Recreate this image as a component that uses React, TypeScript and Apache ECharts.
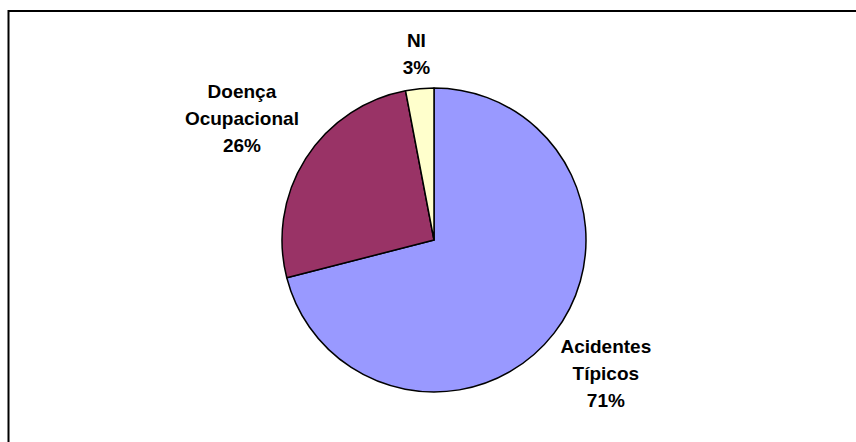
import React, { useEffect, useRef } from "react";
import * as echarts from "echarts";

// Work-accident records by type
const categories = ["Acidentes Típicos", "Doença Ocupacional", "NI"];
const shares = [71, 26, 3];
const sliceColors = ["#9999FF", "#993366", "#FFFFCC"];

const CX = 434;
const CY = 240;
const R = 152;
const LABEL_GAP = 8;

export default function App() {
  const ref = useRef<HTMLDivElement>(null);

  useEffect(() => {
    if (!ref.current) return;
    const chart = echarts.init(ref.current, null, { renderer: "svg" });

    const total = shares.reduce((a, b) => a + b, 0);
    // mid-angle of each slice, clockwise from 12 o'clock
    const midAngles: number[] = [];
    let acc = 0;
    shares.forEach((v) => {
      const start = (acc / total) * Math.PI * 2;
      acc += v;
      const end = (acc / total) * Math.PI * 2;
      midAngles.push((start + end) / 2);
    });

    chart.setOption({
      animation: false,
      backgroundColor: "#ffffff",
      graphic: [
        {
          type: "rect",
          shape: { x: 8.5, y: 11, width: 870, height: 450 },
          style: { fill: "none", stroke: "#000000", lineWidth: 2 },
          silent: true,
        },
      ],
      series: [
        {
          type: "pie",
          center: [CX, CY],
          radius: R,
          startAngle: 90,
          clockwise: true,
          avoidLabelOverlap: false,
          itemStyle: { borderColor: "#000000", borderWidth: 1.5 },
          emphasis: { disabled: true },
          labelLine: { show: false },
          label: {
            show: true,
            position: "outside",
            fontFamily: "'Liberation Sans', Arial, sans-serif",
            fontWeight: "bold",
            fontSize: 19,
            lineHeight: 27,
            color: "#000000",
            align: "center",
            formatter: (p: any) =>
              `${String(p.name).replace(" ", "\n")}\n${Math.round(p.percent)}%`,
          },
          labelLayout: (p: any) => {
            const a = midAngles[p.dataIndex];
            const dx = Math.sin(a);
            const dy = -Math.cos(a);
            const hw = p.labelRect.width / 2;
            const hh = p.labelRect.height / 2;
            const ext = Math.min(
              Math.abs(dx) > 1e-6 ? hw / Math.abs(dx) : Infinity,
              Math.abs(dy) > 1e-6 ? hh / Math.abs(dy) : Infinity
            );
            const d = R + LABEL_GAP + ext;
            return {
              x: CX + dx * d,
              y: CY + dy * d,
              align: "center",
              verticalAlign: "middle",
            };
          },
          data: categories.map((name, i) => ({
            name,
            value: shares[i],
            itemStyle: { color: sliceColors[i] },
          })),
        },
      ],
    });

    return () => chart.dispose();
  }, []);

  return (
    <div
      ref={ref}
      style={{ position: "fixed", left: 0, top: 0, width: 856, height: 442 }}
    />
  );
}
